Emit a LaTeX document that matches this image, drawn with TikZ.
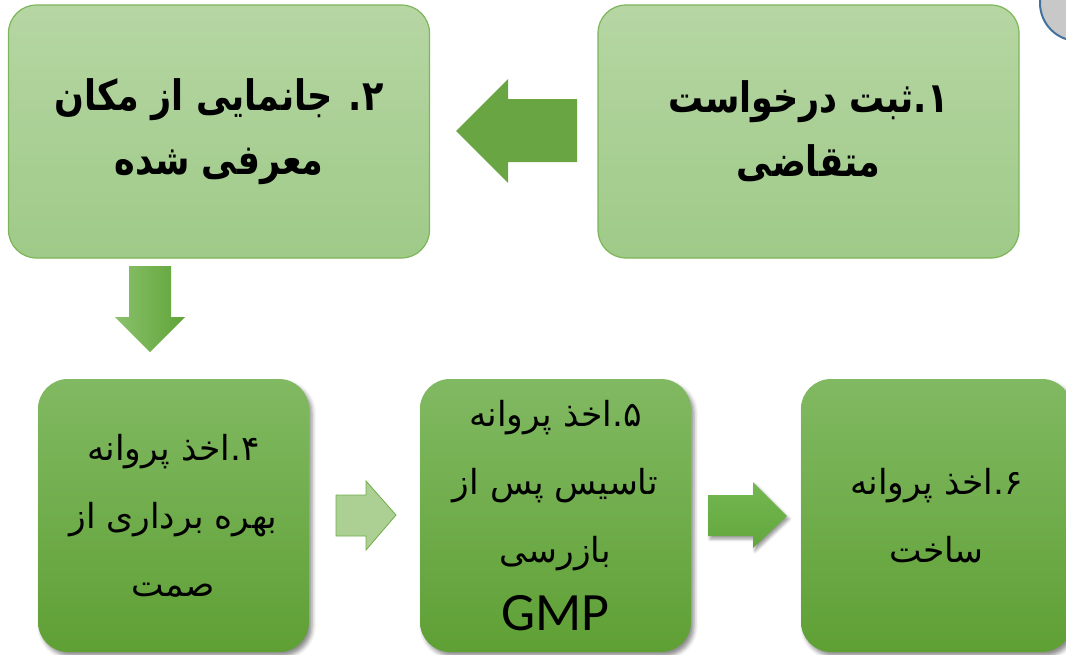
\documentclass[tikz,border=0pt]{standalone}
\usepackage{fontspec}
\usepackage{graphicx}
\setmainfont{Carlito}
\newfontfamily\arabicfont[Script=Arabic]{DejaVu Sans}
\TeXXeTstate=1
\usetikzlibrary{shadows.blur}

\definecolor{topA}{RGB}{182,214,163}
\definecolor{topB}{RGB}{159,202,136}
\definecolor{topEdge}{RGB}{125,181,90}
\definecolor{botA}{RGB}{129,185,98}
\definecolor{botB}{RGB}{95,160,53}
\definecolor{arrowL}{RGB}{106,165,68}
\definecolor{downA}{RGB}{138,193,108}
\definecolor{downB}{RGB}{96,164,56}
\definecolor{lightArrow}{RGB}{172,208,148}
\definecolor{lightEdge}{RGB}{112,173,71}
\definecolor{arrTop}{RGB}{116,183,82}
\definecolor{arrBot}{RGB}{98,167,60}
\definecolor{circFill}{RGB}{200,200,200}
\definecolor{circEdge}{RGB}{65,113,156}

% a right-to-left line, stretched a little vertically
\newcommand\tallline[1]{\scalebox{1}[1.2]{\beginR#1\endR}}
\newcommand\rtline[1]{\beginR#1\endR}

\begin{document}
\begin{tikzpicture}[x=1pt,y=1pt,
  topbox/.style={draw=topEdge, line width=1.2pt, rounded corners=28pt,
    top color=topA, bottom color=topB,
    minimum width=421pt, minimum height=253pt, inner sep=0pt, align=center,
    font=\arabicfont\bfseries\fontsize{35}{64}\selectfont},
  botbox/.style={rounded corners=30pt, top color=botA, bottom color=botB,
    minimum width=271pt, minimum height=273pt, inner sep=0pt, align=center,
    blur shadow={shadow xshift=3pt, shadow yshift=-4pt, shadow blur radius=4pt, shadow opacity=45},
    font=\arabicfont\fontsize{34.5}{68}\selectfont}
]
\useasboundingbox (0,0) rectangle (1066,-654);
\begin{scope}
\clip (0,0) rectangle (1066,-654);

% top boxes
\node[topbox] (b1) at (808.5,-131.5) {\tallline{۱.ثبت درخواست}\\\tallline{متقاضی}};
\node[topbox] (b2) at (219,-131.5) {\tallline{۲. جانمایی از مکان}\\\tallline{معرفی شده}};

% bottom boxes
\node[botbox] (b4) at (173.5,-515.5) {\rtline{۴.اخذ پروانه}\\\rtline{بهره برداری از}\\\rtline{صمت}};
\node[botbox] (b5) at (555.5,-515.5) {\rtline{۵.اخذ پروانه}\\\rtline{تاسیس پس از}\\\rtline{بازرسی}\\{\normalfont\fontsize{54}{67}\selectfont GMP}};
\node[botbox] (b6) at (936.5,-515.5) {\rtline{۶.اخذ پروانه}\\\rtline{ساخت}};

% arrows
\fill[arrowL] (456,-131) -- (508,-79) -- (508,-99) -- (577,-99) -- (577,-162) -- (508,-162) -- (508,-183) -- cycle;
\shade[left color=downA, right color=downB] (129,-266) -- (171,-266) -- (171,-317) -- (185,-317) -- (150,-352) -- (115,-317) -- (129,-317) -- cycle;
\filldraw[fill=lightArrow, draw=lightEdge, line width=0.8pt] (336,-495) -- (366,-495) -- (366,-481) -- (396,-515) -- (366,-550) -- (366,-536) -- (336,-536) -- cycle;
\path[top color=arrTop, bottom color=arrBot, blur shadow={shadow xshift=2pt, shadow yshift=-3pt, shadow blur radius=3pt, shadow opacity=40}] (708,-495) -- (753,-495) -- (753,-482) -- (787,-516) -- (753,-548) -- (753,-536) -- (708,-536) -- cycle;

% corner circle
\node[circle, draw=circEdge, fill=circFill, line width=2pt, minimum size=76pt] (c) at (1078,-3) {};
\end{scope}
\end{tikzpicture}
\end{document}
